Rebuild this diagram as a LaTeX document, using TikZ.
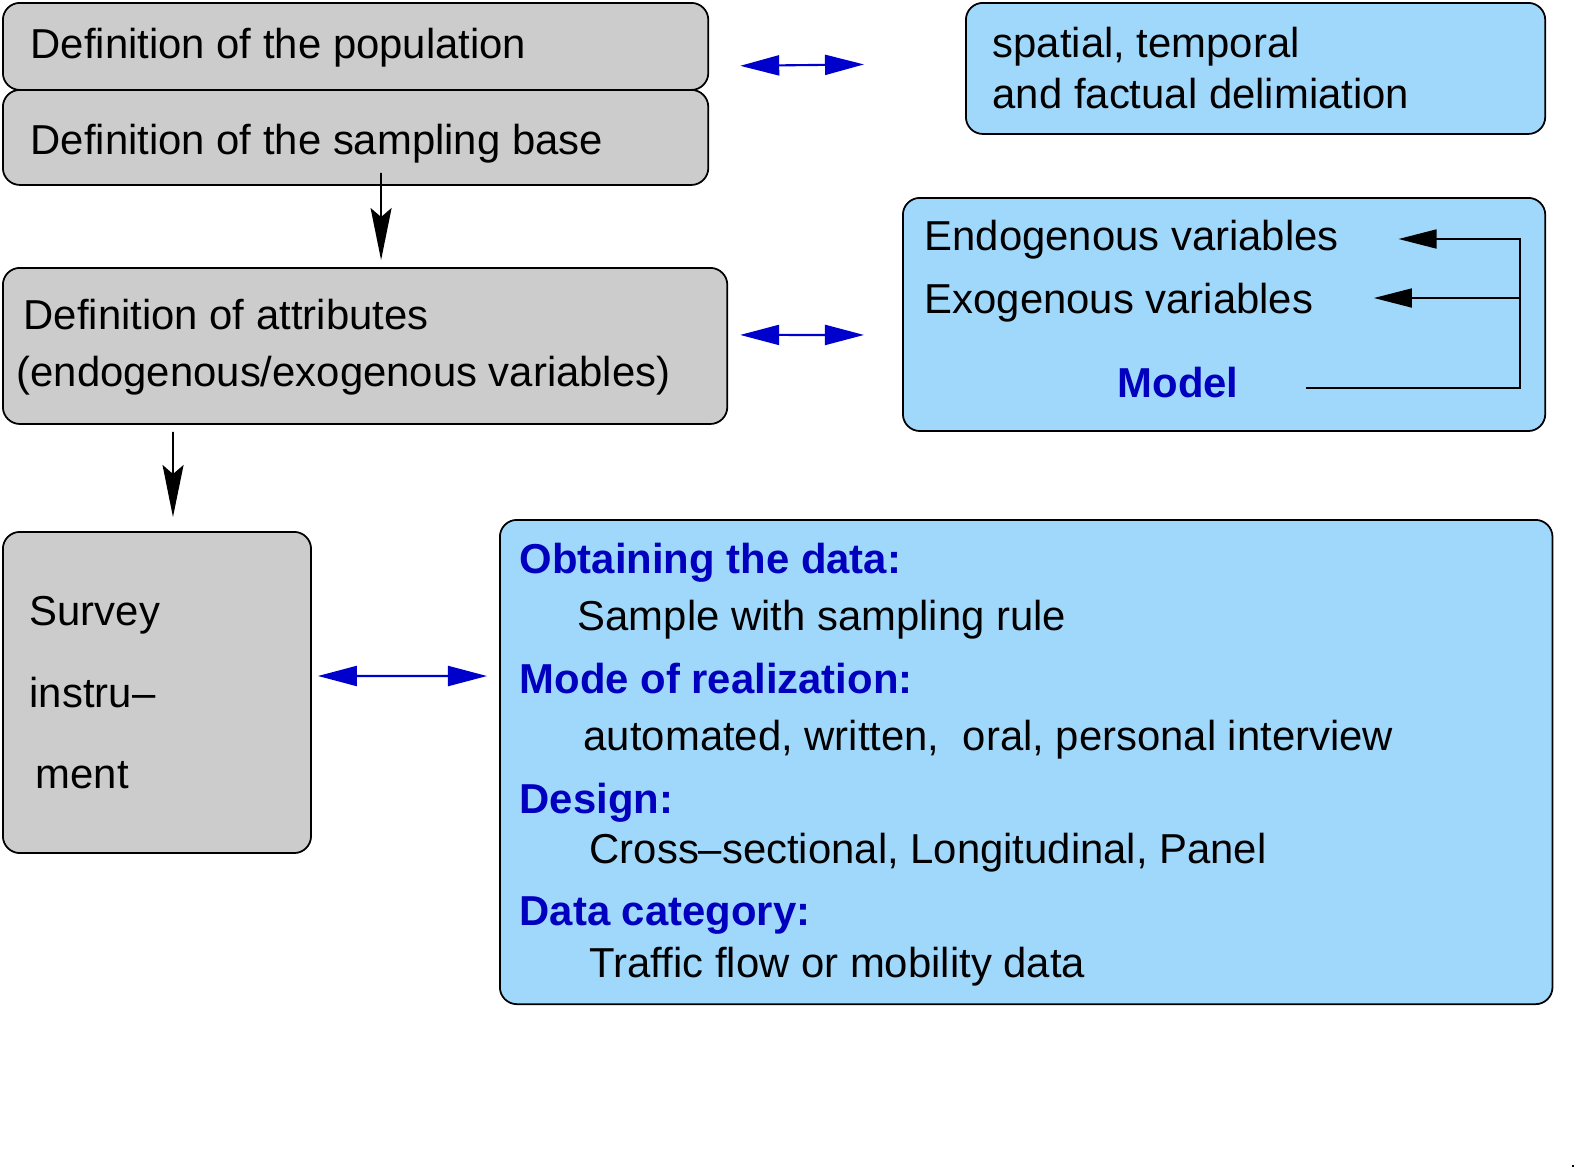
\documentclass[tikz,border=0pt]{standalone}
\usepackage{fontspec}
\setmainfont{Liberation Sans}
\usetikzlibrary{arrows.meta, calc}
\definecolor{boxgray}{RGB}{204,204,204}
\definecolor{boxblue}{RGB}{160,216,252}
\definecolor{headblue}{RGB}{0,0,190}
\definecolor{arrowblue}{RGB}{0,0,205}

\begin{document}
\begin{tikzpicture}[x=0.01cm, y=-0.01cm,
    graybox/.style={draw, fill=boxgray, rounded corners=0.17cm, line width=0.5pt, anchor=north west, inner sep=0pt},
    bluebox/.style={graybox, fill=boxblue},
    txt/.style={anchor=base west, inner sep=0pt, font=\fontsize{11.9}{14}\selectfont},
    headtxt/.style={txt, font=\fontsize{11.9}{14}\selectfont\bfseries, text=headblue},
    both/.style={{Triangle[length=0.39cm, width=0.2cm]}-{Triangle[length=0.39cm, width=0.2cm]}, arrowblue, line width=0.6pt},
    down/.style={-{Stealth[length=0.52cm, width=0.21cm, inset=0.09cm]}, line width=0.5pt},
    back/.style={-{Triangle[length=0.38cm, width=0.19cm]}, line width=0.5pt}]
\useasboundingbox (0,0) rectangle (1579,1169);

            %% left column
            \node[graybox, minimum width=7.05cm, minimum height=0.87cm] (popbox) at (2,2) {};
            \node[graybox, minimum width=7.05cm, minimum height=0.95cm] (basebox) at (2,89) {};
            \node[graybox, minimum width=7.24cm, minimum height=1.56cm] (attrbox) at (2,267) {};
            \node[graybox, minimum width=3.08cm, minimum height=3.21cm] (survbox) at (2,531) {};
            \node[txt] (poptxt) at (30,58) {Definition of the population};
            \node[txt] (basetxt) at (30,154) {Definition of the sampling base};
            \node[txt] (attrtxt) at (23,329) {Definition of attributes};
            \node[txt] (attrtxtb) at (16,386) {(endogenous/exogenous variables)};
            \node[txt] (survtxt) at (29,625) {Survey};
            \node[txt] (survtxtb) at (29,707) {instru–};
            \node[txt] (survtxtc) at (35,788) {ment};

            %% right column
            \node[bluebox, minimum width=5.79cm, minimum height=1.31cm] (delimbox) at (965,2) {};
            \node[txt] (delimtxt) at (992,57) {spatial, temporal};
            \node[txt] (delimtxtb) at (992,108) {and factual delimiation};

            \node[bluebox, minimum width=6.42cm, minimum height=2.33cm] (modelbox) at (902,197) {};
            \node[txt] (endotxt) at (924,250) {Endogenous variables};
            \node[txt] (exotxt) at (924,313) {Exogenous variables};
            \node[headtxt, anchor=base] (modeltxt) at (1178,397) {Model};

            \node[bluebox, minimum width=10.52cm, minimum height=4.84cm] (databox) at (499,519) {};
            \node[headtxt] (obtain) at (519,573) {Obtaining the data:};
            \node[txt] (obtaintxt) at (577,630) {Sample with sampling rule};
            \node[headtxt] (mode) at (519,693) {Mode of realization:};
            \node[txt] (modetxt) at (583,750) {automated, written,~ oral, personal interview};
            \node[headtxt] (design) at (519,813) {Design:};
            \node[txt] (designtxt) at (589,863) {Cross–sectional, Longitudinal, Panel};
            \node[headtxt] (categ) at (519,925) {Data category:};
            \node[txt] (categtxt) at (589,977) {Traffic flow or mobility data};

            %% down arrows
            \draw[down] ($(basebox.south)+(25.5,-13)$) -- ($(attrbox.north)+(16,-7)$);
            \draw[down] ($(attrbox.south)+(-192,7)$) -- ($(survbox.north)+(16,-14)$);

            %% blue double arrows
            \draw[both] ($(popbox.south east)+(31,-25)$) -- ($(delimbox.west)+(-101,-4)$);
            \draw[both] ($(attrbox.east)+(12,-11)$) -- ($(modelbox.west)+(-38,20.5)$);
            \draw[both] ($(survbox.east)+(6,-16.5)$) -- ($(databox.west)+(-12,-86)$);

            %% model feedback
            \draw[back] ($(modeltxt.base east)+(67,-9)$) -| ($(modelbox.north east)+(-26,42)$) -- ($(endotxt.base east)+(59,-11)$);
            \draw[back] ($(modelbox.north east)+(-26,101)$) -- ($(exotxt.base east)+(60,-15)$);

            \fill (1572,1165) rectangle ++(2,2);
\end{tikzpicture}
\end{document}
